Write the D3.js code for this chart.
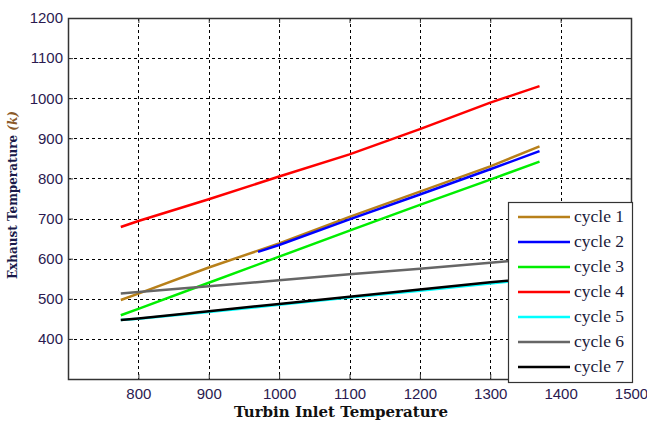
<!DOCTYPE html>
<html><head><meta charset="utf-8">
<script src="https://cdn.jsdelivr.net/npm/d3@7"></script>
<style>body{margin:0;background:#fff}svg{display:block}</style>
</head><body>
<script>
const tit = [775, 800, 900, 1000, 1100, 1200, 1300, 1370];
const cycle1 = [497, 513, 578, 638, 704, 767, 830, 880];
const cycle2Tit = [970, 1000, 1100, 1200, 1300, 1370];
const cycle2 = [617, 634, 698, 760, 823, 868];
const cycle3 = [459, 475, 540, 605, 670, 734, 797, 842];
const cycle4 = [679, 694, 748, 805, 860, 923, 989, 1030];
const cycle5 = [447, 450, 467, 485, 503, 520, 538, 550];
const cycle6 = [513, 517, 531, 546, 561, 575, 590, 600];
const cycle7 = [447, 451, 469, 487, 505, 523, 541, 553];
const xTicks = [800, 900, 1000, 1100, 1200, 1300, 1400, 1500];
const yTicks = [400, 500, 600, 700, 800, 900, 1000, 1100, 1200];
const legendLabels = ["cycle 1","cycle 2","cycle 3","cycle 4","cycle 5","cycle 6","cycle 7"];
const colors = ["#b8801a","#0000ff","#00ee00","#ff0000","#00ffff","#666666","#000000"];

const series = [
  {x: tit, y: cycle1, c: 0},
  {x: cycle2Tit, y: cycle2, c: 1},
  {x: tit, y: cycle3, c: 2},
  {x: tit, y: cycle4, c: 3},
  {x: tit, y: cycle5, c: 4},
  {x: tit, y: cycle6, c: 5},
  {x: tit, y: cycle7, c: 6}
];

const W = 647, H = 424;
const L = 68, R = 631, T = 18, B = 379;
const svg = d3.select("body").append("svg").attr("width", W).attr("height", H);
const x = d3.scaleLinear().domain([700, 1500]).range([L, R]);
const y = d3.scaleLinear().domain([300, 1200]).range([B, T]);

// grid
const grid = svg.append("g").attr("stroke", "#000").attr("stroke-width", 1).attr("stroke-dasharray", "3,3");
xTicks.filter(t => t < 1500).forEach(t => grid.append("line").attr("x1", Math.round(x(t))+0.5).attr("x2", Math.round(x(t))+0.5).attr("y1", T).attr("y2", B));
yTicks.filter(t => t < 1200).forEach(t => grid.append("line").attr("y1", Math.round(y(t))+0.5).attr("y2", Math.round(y(t))+0.5).attr("x1", L).attr("x2", R));

// axes
const fontTick = "'Liberation Sans', Arial, sans-serif";
const xAx = svg.append("g").attr("transform", `translate(0,${B})`)
  .call(d3.axisBottom(x).tickValues(xTicks).tickSize(-5).tickPadding(9).tickFormat(d3.format("d")));
const yAx = svg.append("g").attr("transform", `translate(${L},0)`)
  .call(d3.axisLeft(y).tickValues(yTicks).tickSize(-5).tickPadding(5).tickFormat(d3.format("d")));
svg.append("g").attr("transform", `translate(0,${T})`)
  .call(d3.axisTop(x).tickValues(xTicks).tickSize(-5).tickFormat(""));
svg.append("g").attr("transform", `translate(${R},0)`)
  .call(d3.axisRight(y).tickValues(yTicks).tickSize(-5).tickFormat(""));
svg.selectAll(".domain").remove();
svg.selectAll(".tick line").attr("stroke", "#333");
[xAx, yAx].forEach(a => a.selectAll("text").attr("font-family", fontTick).attr("font-size", 15).attr("fill", "#2a1a50"));
svg.append("rect").attr("x", L+0.5).attr("y", T+0.5).attr("width", R-L).attr("height", B-T)
  .attr("fill", "none").attr("stroke", "#333").attr("stroke-width", 1.5);

// lines
const line = d3.line();
series.forEach(s => {
  svg.append("path")
    .attr("d", line(s.x.map((v, i) => [x(v), y(s.y[i])])))
    .attr("fill", "none").attr("stroke", colors[s.c]).attr("stroke-width", 2.5);
});

// legend
const lg = svg.append("g");
lg.append("rect").attr("x", 508.5).attr("y", 202.5).attr("width", 124).attr("height", 180)
  .attr("fill", "#fff").attr("stroke", "#333").attr("stroke-width", 1.2);
legendLabels.forEach((lab, i) => {
  const yy = 217 + i * 25;
  lg.append("line").attr("x1", 518).attr("x2", 570).attr("y1", yy).attr("y2", yy)
    .attr("stroke", colors[i]).attr("stroke-width", 2.5);
  lg.append("text").attr("x", 574).attr("y", yy + 5).text(lab)
    .attr("font-family", "'Liberation Serif', 'Times New Roman', serif").attr("font-size", 17.5).attr("fill", "#1a1a3a");
});

// titles
svg.append("text").attr("x", 341).attr("y", 417).attr("text-anchor", "middle")
  .attr("font-family", "'DejaVu Serif', serif").attr("font-weight", "bold").attr("font-size", 15)
  .attr("fill", "#111").text("Turbin Inlet Temperature");
const yt = svg.append("text").attr("transform", "translate(17,195) rotate(-90)").attr("text-anchor", "middle")
  .attr("font-family", "'DejaVu Serif', serif").attr("font-weight", "bold").attr("font-size", 12).attr("fill", "#1a1a4a");
yt.append("tspan").text("Exhaust Temperature ");
yt.append("tspan").attr("font-style", "italic").attr("fill", "#8a5a2a").text("(k)");
</script>
</body></html>
